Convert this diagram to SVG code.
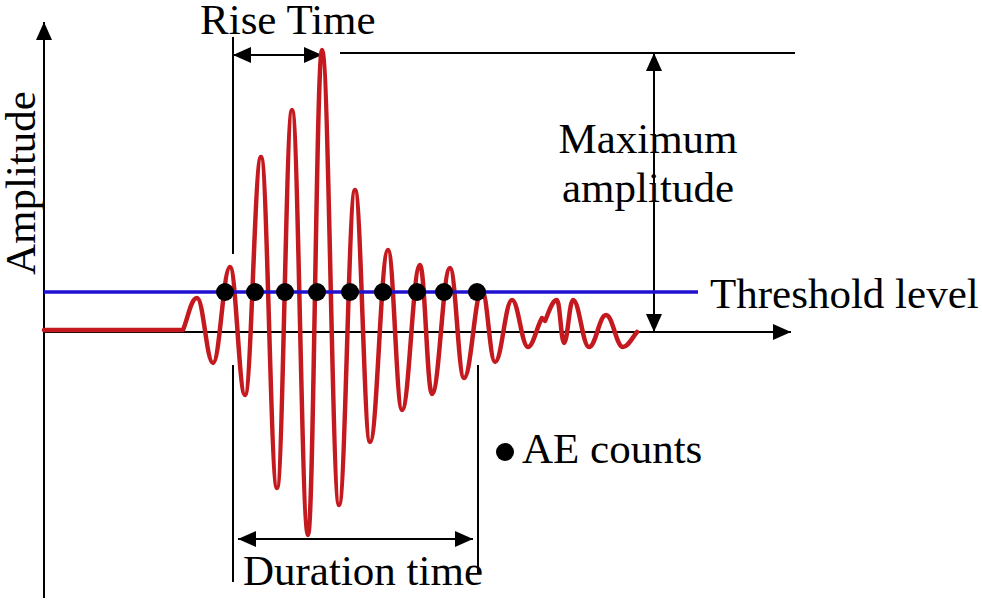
<svg xmlns="http://www.w3.org/2000/svg" width="982" height="600" viewBox="0 0 982 600">
<style>
.t{font-family:"Liberation Serif","Times New Roman",serif;font-size:43px;fill:#000}
.ln{stroke:#000;stroke-width:2;fill:none}
.wave{stroke:#c41a1f;stroke-width:4.5;fill:none;stroke-linejoin:round;stroke-linecap:round}
.thr{stroke:#2010d0;stroke-width:3.5;fill:none}
.dot{fill:#000}
</style>
<defs>
<marker id="ah" viewBox="0 0 18 16" refX="18" refY="8" markerWidth="18" markerHeight="16" markerUnits="userSpaceOnUse" orient="auto-start-reverse">
<path d="M0,0 L18,8 L0,16 z" fill="#000"/>
</marker>
</defs>
<rect width="982" height="600" fill="#fff"/>
<g id="connectors">
<line class="ln" x1="44" y1="598" x2="44" y2="22" marker-end="url(#ah)"/>
<line class="ln" x1="44" y1="332" x2="791" y2="332" marker-end="url(#ah)"/>
<line class="ln" x1="233" y1="37" x2="233" y2="254"/>
<line class="ln" x1="233" y1="55" x2="322" y2="55" marker-start="url(#ah)" marker-end="url(#ah)"/>
<line class="ln" x1="340" y1="53" x2="795" y2="53"/>
<line class="ln" x1="654" y1="53" x2="654" y2="332" marker-start="url(#ah)" marker-end="url(#ah)"/>
<line class="ln" x1="233" y1="365" x2="233" y2="582"/>
<line class="ln" x1="478" y1="365" x2="478" y2="573"/>
<line class="ln" x1="238" y1="539" x2="473" y2="539" marker-start="url(#ah)" marker-end="url(#ah)"/>
</g>
<g id="waveform">
<path class="wave" d="M44,330 L183,330 C188,318 191,298 197,298 C203.4,298 206.6,363 213,363 C219.8,363 223.2,267 230,267 C236,267 239,395 245,395 C251.4,395 254.6,157 261,157 C267.4,157 270.6,488 277,488 C283,488 286,110 292,110 C298.4,110 301.6,535 308,535 C313.6,535 316.4,50 322,50 C328.8,50 332.2,505 339,505 C345.4,505 348.6,190 355,190 C361,190 364,442 370,442 C377.2,442 380.8,250 388,250 C393.6,250 396.4,410 402,410 C409.2,410 412.8,265 420,265 C424.8,265 427.2,394 432,394 C439.2,394 442.8,268 450,268 C455.6,268 458.4,378 464,378 C471.2,378 474.8,290 482,290 C487.2,290 489.8,362 495,362 C501.8,362 505.2,300 512,300 C518.4,300 521.6,347 528,347 C533,347 537,326 542,318 L545,321 C549,312 552,300 557,300 C559.8,300 561.2,343 564,343 C567.6,343 569.4,300 573,300 C579.4,300 582.6,347 589,347 C595.8,347 599.2,315 606,315 C612.8,315 616.2,347 623,347 C628,347 632,338 637,332"/>
</g>
<g id="threshold">
<line class="thr" x1="44" y1="292" x2="698" y2="292"/>
<text class="t" x="710" y="308">Threshold level</text>
</g>
<g id="ae-counts">
<circle class="dot" cx="225" cy="292" r="9"/>
<circle class="dot" cx="255" cy="292" r="9"/>
<circle class="dot" cx="285" cy="292" r="9"/>
<circle class="dot" cx="317" cy="292" r="9"/>
<circle class="dot" cx="350" cy="292" r="9"/>
<circle class="dot" cx="383" cy="292" r="9"/>
<circle class="dot" cx="417" cy="292" r="9"/>
<circle class="dot" cx="444" cy="292" r="9"/>
<circle class="dot" cx="477" cy="292" r="9"/>
</g>
<g id="legend">
<circle class="dot" cx="505" cy="452" r="9"/>
<text class="t" x="522" y="463">AE counts</text>
</g>
<g id="amplitude-label">
<text class="t" transform="translate(35,275) rotate(-90)">Amplitude</text>
</g>
<g id="rise-time">
<text class="t" x="200" y="34">Rise Time</text>
</g>
<g id="max-amplitude">
<text class="t" x="648" y="153" text-anchor="middle">Maximum</text>
<text class="t" x="648" y="202" text-anchor="middle">amplitude</text>
</g>
<g id="duration">
<text class="t" x="243" y="585">Duration time</text>
</g>
</svg>
